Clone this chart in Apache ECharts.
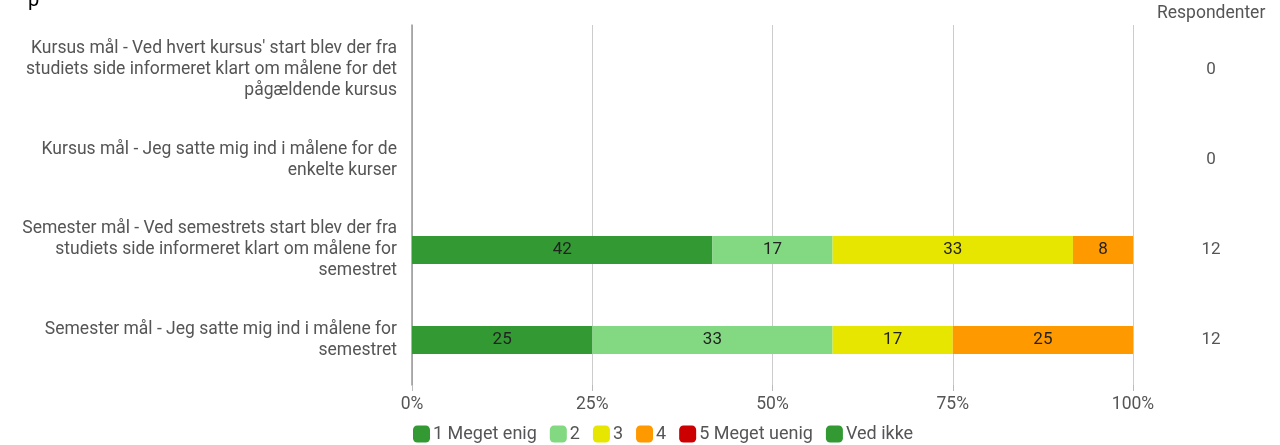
<!DOCTYPE html>
<html>
<head>
<meta charset="utf-8">
<script src="https://cdn.jsdelivr.net/npm/echarts@6/dist/echarts.min.js"></script>
<style>
  html, body { margin: 0; padding: 0; background: #fff; }
  #chart { width: 1280px; height: 445px; }
</style>
</head>
<body>
<div id="chart"></div>
<script>
// spørgsmål (y-aksen, oppefra og ned)
const questions = [
  "Kursus mål - Ved hvert kursus' start blev der fra\nstudiets side informeret klart om målene for det\npågældende kursus",
  'Kursus mål - Jeg satte mig ind i målene for de\nenkelte kurser',
  'Semester mål - Ved semestrets start blev der fra\nstudiets side informeret klart om målene for\nsemestret',
  'Semester mål - Jeg satte mig ind i målene for\nsemestret'
];
const respondents = [0, 0, 12, 12];

// antal svar pr. kategori
const answers = ['1 Meget enig', '2', '3', '4', '5 Meget uenig', 'Ved ikke'];
const colors = ['#339933', '#82d982', '#e6e600', '#ff9900', '#cc0000', '#339933'];
const counts = [
  [0, 0, 5, 3],   // 1 Meget enig
  [0, 0, 2, 4],   // 2
  [0, 0, 4, 2],   // 3
  [0, 0, 1, 3],   // 4
  [0, 0, 0, 0],   // 5 Meget uenig
  [0, 0, 0, 0]    // Ved ikke
];
const xTicks = ['0%', '25%', '50%', '75%', '100%'];

const myChart = echarts.init(document.getElementById('chart'));

const series = answers.map((name, i) => ({
  name: name,
  type: 'bar',
  stack: 'total',
  barWidth: 28,
  yAxisIndex: 0,
  itemStyle: { color: colors[i] },
  label: {
    show: true,
    color: '#222',
    fontSize: 17,
    fontFamily: 'Roboto',
    formatter: p => (p.value > 0 ? Math.round(p.value) : '')
  },
  data: counts[i].map((c, j) => (respondents[j] ? c / respondents[j] * 100 : 0))
}));

const option = {
  animation: false,
  textStyle: { fontFamily: 'Roboto' },
  grid: { left: 412, right: 147, top: 25, bottom: 60, containLabel: false },
  legend: {
    left: 408,
    top: 420,
    itemWidth: 17,
    itemHeight: 17,
    itemGap: 13,
    icon: 'roundRect',
    textStyle: { fontSize: 18, color: '#555', padding: [0, 0, 0, -2] },
    data: answers
  },
  xAxis: {
    type: 'value',
    min: 0,
    max: 100,
    interval: 25,
    axisLine: { show: false },
    axisTick: { show: true, length: 6, lineStyle: { color: '#bbb' } },
    splitLine: { show: true, lineStyle: { color: '#cccccc', width: 1 } },
    axisLabel: {
      fontSize: 17.5,
      color: '#555',
      margin: 11,
      formatter: v => xTicks[v / 25]
    }
  },
  yAxis: [
    {
      type: 'category',
      inverse: true,
      data: questions,
      axisLine: { show: true, lineStyle: { color: '#999', width: 1.5 } },
      axisTick: { show: false },
      axisLabel: {
        fontSize: 17.5,
        color: '#555',
        lineHeight: 21,
        align: 'right',
        margin: 15
      }
    },
    {
      type: 'category',
      inverse: true,
      position: 'right',
      data: respondents.map(String),
      axisLine: { show: false },
      axisTick: { show: false },
      axisLabel: {
        fontSize: 17,
        color: '#555',
        align: 'center',
        margin: 78
      }
    }
  ],
  graphic: [
    {
      type: 'text',
      left: 1157,
      top: 5,
      style: { text: 'Respondenter', fontSize: 17.5, fill: '#555', fontFamily: 'Roboto' }
    },
    {
      type: 'text',
      left: 28,
      top: -9,
      style: { text: 'p', fontSize: 20, fill: '#000', fontFamily: 'Roboto' }
    }
  ],
  series: series
};

myChart.setOption(option);
window.onresize = function() {
  myChart.resize();
};
</script>
</body>
</html>
